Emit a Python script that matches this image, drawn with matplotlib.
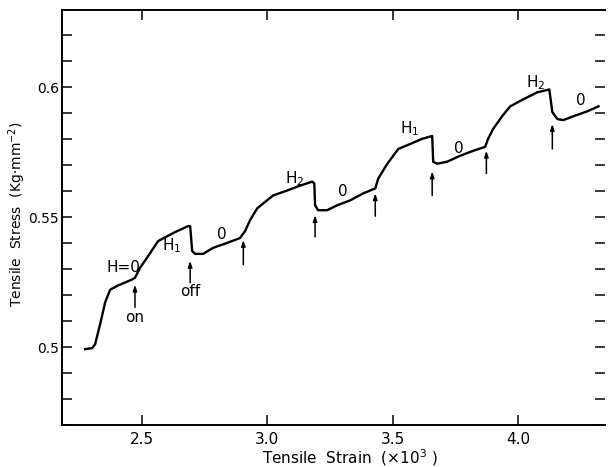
import numpy as np
import matplotlib
matplotlib.use("Agg")
import matplotlib.pyplot as plt

# courbe contrainte / deformation
strain = [2.274, 2.302, 2.314, 2.334, 2.354, 2.374, 2.405, 2.461, 2.473, 2.493,
          2.521, 2.565, 2.625, 2.685, 2.693, 2.701, 2.713, 2.745, 2.784, 2.840,
          2.892, 2.912, 2.932, 2.960, 2.984, 3.024, 3.080, 3.132, 3.180, 3.188,
          3.191, 3.203, 3.239, 3.279, 3.331, 3.383, 3.431, 3.443, 3.479, 3.523,
          3.570, 3.618, 3.658, 3.662, 3.678, 3.718, 3.770, 3.822, 3.869, 3.881,
          3.901, 3.937, 3.969, 4.021, 4.077, 4.125, 4.137, 4.157, 4.181, 4.221,
          4.277, 4.321]
stress = [0.4992, 0.4996, 0.5011, 0.5088, 0.5172, 0.5221, 0.5237, 0.5260, 0.5267, 0.5305,
          0.5344, 0.5408, 0.5439, 0.5466, 0.5466, 0.5370, 0.5359, 0.5359, 0.5382, 0.5401,
          0.5420, 0.5447, 0.5489, 0.5534, 0.5553, 0.5584, 0.5603, 0.5622, 0.5637, 0.5630,
          0.5546, 0.5527, 0.5527, 0.5546, 0.5565, 0.5592, 0.5611, 0.5649, 0.5706, 0.5763,
          0.5782, 0.5802, 0.5813, 0.5714, 0.5706, 0.5714, 0.5737, 0.5756, 0.5771, 0.5802,
          0.5840, 0.5889, 0.5927, 0.5954, 0.5981, 0.5992, 0.5905, 0.5878, 0.5874, 0.5889,
          0.5908, 0.5927]

# fleches (on / off du champ)
arr_x = [2.473, 2.693, 2.905, 3.191, 3.431, 3.658, 3.874, 4.137]
arr_tip = [0.5240, 0.5332, 0.5412, 0.5508, 0.5592, 0.5676, 0.5756, 0.5859]
arr_tail = [0.5153, 0.5248, 0.5317, 0.5424, 0.5504, 0.5584, 0.5668, 0.5763]

# etiquettes
lab_txt = ["H=0", "$H_1$", "0", "$H_2$", "0", "$H_1$", "0", "$H_2$", "0", "on", "off"]
lab_x = [2.426, 2.621, 2.820, 3.108, 3.303, 3.570, 3.766, 4.069, 4.249, 2.473, 2.693]
lab_y = [0.5305, 0.5389, 0.5435, 0.5649, 0.5599, 0.5840, 0.5763, 0.6019, 0.5950, 0.5115, 0.5214]

xticks = [2.5, 3.0, 3.5, 4.0]
xticklabels = ["2.5", "3.0", "3.5", "4.0"]
yticks = [0.5, 0.55, 0.6]
yticklabels = ["0.5", "0.55", "0.6"]

plt.rcParams["mathtext.default"] = "regular"
plt.rcParams["font.family"] = "DejaVu Sans"

fig = plt.figure(figsize=(6.08, 4.67), dpi=100)
ax = fig.add_axes([62 / 608, 1 - 425 / 467, (605 - 62) / 608, (425 - 10) / 467])

ax.plot(strain, stress, color="black", lw=1.7, solid_joinstyle="round")

for x, t, b in zip(arr_x, arr_tip, arr_tail):
    ax.annotate("", xy=(x, t), xytext=(x, b),
                arrowprops=dict(arrowstyle="-|>,head_length=0.35,head_width=0.12",
                                color="black", lw=1.1, shrinkA=0, shrinkB=0))

for s, x, y in zip(lab_txt, lab_x, lab_y):
    ax.text(x, y, s, ha="center", va="center", fontsize=11)

ax.set_xlim(2.182, 4.347)
ax.set_ylim(0.4713, 0.6298)

ax.set_xticks(xticks)
ax.set_xticklabels(xticklabels, fontsize=11)
ax.set_yticks(yticks)
ax.set_yticklabels(yticklabels, fontsize=10)
ax.set_yticks(np.arange(0.47, 0.625, 0.01), minor=True)
ax.tick_params(axis="both", which="both", direction="in", length=7, width=1.1,
               top=True, right=True)
ax.tick_params(axis="y", which="both", pad=2)
ax.tick_params(axis="x", which="both", pad=5)
ax.tick_params(axis="x", which="minor", top=False, bottom=False)

ax.spines["right"].set_visible(False)
for sp in ["left", "bottom", "top"]:
    ax.spines[sp].set_linewidth(1.4)

ax.set_xlabel("Tensile  Strain  (×10$^3$ )", fontsize=11)
ax.set_ylabel("Tensile  Stress  (Kg·mm$^{-2}$)", fontsize=10)
ax.xaxis.set_label_coords((350 - 62) / 543, -(458 - 425) / 415)
ax.yaxis.set_label_coords(-(62 - 17) / 543, (425 - 214) / 415)
ax.xaxis.label.set_va("center")
ax.yaxis.label.set_va("center")

fig.savefig("out.png", dpi=100)
